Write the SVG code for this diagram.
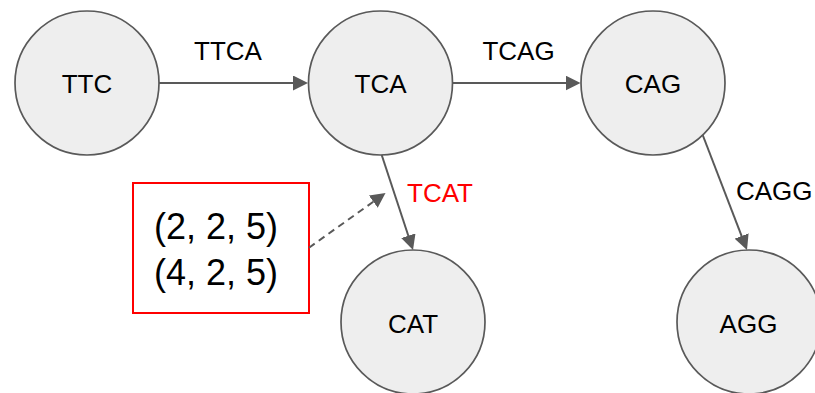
<svg xmlns="http://www.w3.org/2000/svg" width="815" height="393" viewBox="0 0 815 393">
  <style>
    .node circle { fill: #eeeeee; stroke: #595959; stroke-width: 1.7; }
    .label { font-family: "Liberation Sans", Arial, sans-serif; font-size: 26px; fill: #000000; }
    .mid { text-anchor: middle; }
    .edge { stroke: #595959; stroke-width: 2; fill: none; }
    .dash { stroke-dasharray: 7 5; }
    .hit { fill: #ff0000; }
    .pos { font-family: "Liberation Sans", Arial, sans-serif; font-size: 36px; fill: #000000; text-anchor: middle; }
  </style>
  <defs>
    <marker id="arrow" markerUnits="userSpaceOnUse" markerWidth="15" markerHeight="15" refX="5" refY="7.5" orient="auto">
      <path d="M0,0 L15,7.5 L0,15 z" fill="#595959"/>
    </marker>
  </defs>
  <rect width="815" height="393" fill="#ffffff"/>

  <!-- nodes -->
  <g id="node-ttc" class="node">
    <circle cx="87" cy="83" r="72"/>
    <text class="label mid" x="87" y="92.5">TTC</text>
  </g>
  <g id="node-tca" class="node">
    <circle cx="380.5" cy="83" r="72"/>
    <text class="label mid" x="380.5" y="92.5">TCA</text>
  </g>
  <g id="node-cag" class="node">
    <circle cx="653" cy="83" r="72"/>
    <text class="label mid" x="653" y="92.5">CAG</text>
  </g>
  <g id="node-cat" class="node">
    <circle cx="413" cy="322" r="72"/>
    <text class="label mid" x="413" y="333">CAT</text>
  </g>
  <g id="node-agg" class="node">
    <circle cx="749" cy="322" r="72"/>
    <text class="label mid" x="748.5" y="333">AGG</text>
  </g>

  <!-- position list -->
  <g id="positions">
    <rect x="133" y="183" width="176" height="130" fill="#ffffff" stroke="#ff0000" stroke-width="2"/>
    <text class="pos" x="216" y="239">(2, 2, 5)</text>
    <text class="pos" x="216" y="285">(4, 2, 5)</text>
  </g>

  <!-- connectors -->
  <g id="edges">
    <line class="edge" x1="159" y1="83" x2="298" y2="83" marker-end="url(#arrow)"/>
    <line class="edge" x1="453" y1="83" x2="570.5" y2="83" marker-end="url(#arrow)"/>
    <line class="edge" x1="381.7" y1="155" x2="409.9" y2="240.5" marker-end="url(#arrow)"/>
    <line class="edge" x1="702.7" y1="135" x2="743.4" y2="240.7" marker-end="url(#arrow)"/>
    <line class="edge dash" x1="309" y1="247.7" x2="377.4" y2="198.8" marker-end="url(#arrow)"/>
    <text class="label mid" x="228" y="60">TTCA</text>
    <text class="label mid" x="518.5" y="60">TCAG</text>
    <text class="label hit" x="407" y="201.5">TCAT</text>
    <text class="label" x="736" y="199.5">CAGG</text>
  </g>
</svg>
